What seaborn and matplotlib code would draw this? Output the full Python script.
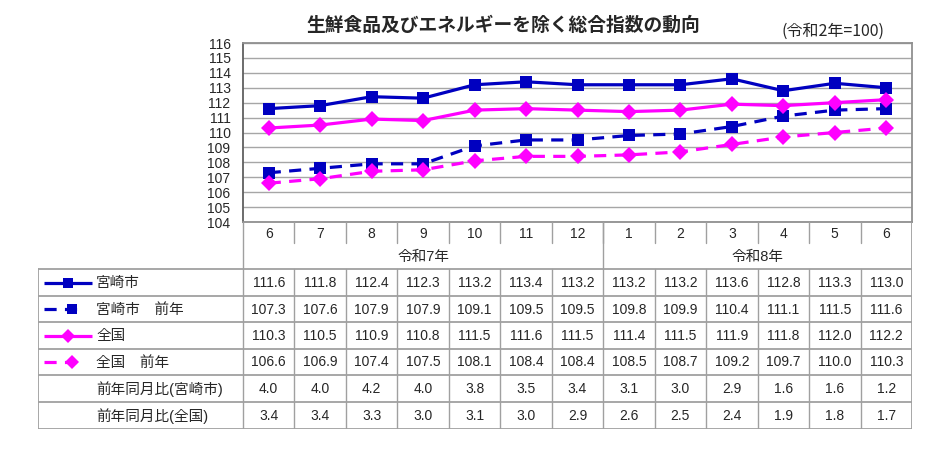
import matplotlib
matplotlib.use('Agg')
import matplotlib.pyplot as plt
import seaborn as sns
import pandas as pd

# data
months = ['6', '7', '8', '9', '10', '11', '12', '1', '2', '3', '4', '5', '6']
years = ['令和7年', '令和8年']
year_first_col = [0, 7]
miyazaki = [111.6, 111.8, 112.4, 112.3, 113.2, 113.4, 113.2, 113.2, 113.2, 113.6, 112.8, 113.3, 113.0]
miyazaki_prev = [107.3, 107.6, 107.9, 107.9, 109.1, 109.5, 109.5, 109.8, 109.9, 110.4, 111.1, 111.5, 111.6]
zenkoku = [110.3, 110.5, 110.9, 110.8, 111.5, 111.6, 111.5, 111.4, 111.5, 111.9, 111.8, 112.0, 112.2]
zenkoku_prev = [106.6, 106.9, 107.4, 107.5, 108.1, 108.4, 108.4, 108.5, 108.7, 109.2, 109.7, 110.0, 110.3]
yoy_miyazaki = [4.0, 4.0, 4.2, 4.0, 3.8, 3.5, 3.4, 3.1, 3.0, 2.9, 1.6, 1.6, 1.2]
yoy_zenkoku = [3.4, 3.4, 3.3, 3.0, 3.1, 3.0, 2.9, 2.6, 2.5, 2.4, 1.9, 1.8, 1.7]
series_names = ['宮崎市', '宮崎市　前年', '全国', '全国　前年']
yoy_names = ['前年同月比(宮崎市)', '前年同月比(全国)']

title = '生鮮食品及びエネルギーを除く総合指数の動向'
base_note = '(令和2年=100)'

sns.set_theme(style='white')
plt.rcParams['font.family'] = ['Liberation Sans', 'Noto Sans CJK JP', 'DejaVu Sans']

BLUE = '#0000C0'
MAGENTA = '#FF00FF'
GRID = '#A6A6A6'
DASH = (3.8, 2.6)
palette = dict(zip(series_names, [BLUE, BLUE, MAGENTA, MAGENTA]))
markers = dict(zip(series_names, ['s', 's', 'D', 'D']))
dashes = dict(zip(series_names, ['', DASH, '', DASH]))

rows = []
for name, vals in zip(series_names, [miyazaki, miyazaki_prev, zenkoku, zenkoku_prev]):
    for i, v in enumerate(vals):
        rows.append({'pos': i, 'value': v, 'series': name})
df = pd.DataFrame(rows)

W, H = 933, 465
fig = plt.figure(figsize=(W / 100, H / 100), dpi=100)

# plot area geometry (pixels)
px_left, px_right, px_top, px_bottom = 243, 912, 43, 222
ax = fig.add_axes([px_left / W, 1 - px_bottom / H, (px_right - px_left) / W, (px_bottom - px_top) / H])
sns.lineplot(data=df, x='pos', y='value', hue='series', style='series',
             palette=palette, markers=markers, dashes=dashes,
             linewidth=2.3, markersize=8.5, markeredgewidth=0,
             legend=False, ax=ax)
ax.set_xlim(-0.5, len(months) - 0.5)
ax.set_ylim(104, 116)
ax.set_yticks(range(104, 117))
ax.set_xticks([])
ax.set_xlabel('')
ax.set_ylabel('')
ax.grid(axis='y', color=GRID, linewidth=1)
ax.tick_params(axis='y', length=0, pad=9, labelsize=10)
for s in ax.spines.values():
    s.set_color('#909090')
    s.set_linewidth(1.3)
ax.spines['left'].set_color('#606060')

fig.text(503 / W, 1 - 25 / H, title, ha='center', va='center', fontsize=13.5,
         fontweight='bold', family=['Noto Sans CJK JP'])
fig.text(833 / W, 1 - 31 / H, base_note, ha='center', va='center', fontsize=11.5,
         family=['Noto Sans CJK JP'])

# data table under the plot
tb_left, tb_top, tb_bottom = 38, 222, 429
col_w = (px_right - px_left) / len(months)
lab_w = (px_left - tb_left) / col_w
axt = fig.add_axes([tb_left / W, 1 - tb_bottom / H, (px_right - tb_left) / W, (tb_bottom - tb_top) / H])
x0 = -0.5 - lab_w
x1 = len(months) - 0.5
axt.set_xlim(x0, x1)
axt.set_ylim(tb_bottom, tb_top)
axt.axis('off')


def px(x):
    return x0 + (x - tb_left) / col_w


LC = '#A0A0A0'
row_edges = [269, 296, 322, 349, 375, 402, 429]
month_row_bottom = 243

# month row and year row
for i, m in enumerate(months):
    axt.text(i, (tb_top + month_row_bottom) / 2 + 1, m, ha='center', va='center', fontsize=10)
    if i > 0:
        axt.plot([i - 0.5, i - 0.5], [tb_top, month_row_bottom], color=LC, lw=1)
col_ends = year_first_col[1:] + [len(months)]
for y_lab, c0, c_end in zip(years, year_first_col, col_ends):
    axt.text((c0 + c_end - 1) / 2, (month_row_bottom + row_edges[0]) / 2 + 1, y_lab,
             ha='center', va='center', fontsize=10.5)
axt.plot([year_first_col[1] - 0.5] * 2, [tb_top, row_edges[0]], color=LC, lw=1)

# vertical borders
axt.plot([-0.5, -0.5], [tb_top, tb_bottom], color=LC, lw=1)
axt.plot([x1, x1], [tb_top, tb_bottom], color=LC, lw=1.3)
axt.plot([x0, x0], [row_edges[0], tb_bottom], color=LC, lw=1.3)
for i in range(1, len(months)):
    axt.plot([i - 0.5, i - 0.5], [row_edges[0], tb_bottom], color=LC, lw=1)

# horizontal borders
for y in row_edges:
    axt.plot([x0, x1], [y, y], color=LC, lw=1.3)

# data rows
all_rows = [miyazaki, miyazaki_prev, zenkoku, zenkoku_prev, yoy_miyazaki, yoy_zenkoku]
all_names = series_names + yoy_names
for r, (name, vals) in enumerate(zip(all_names, all_rows)):
    yc = (row_edges[r] + row_edges[r + 1]) / 2 + 0.5
    axt.text(px(96), yc, name, ha='left', va='center', fontsize=10.5)
    for i, v in enumerate(vals):
        axt.text(i, yc, f'{v:.1f}', ha='center', va='center', fontsize=10)
    if r < 4:
        if dashes[name] == '':
            axt.plot([px(44), px(92)], [yc, yc], color=palette[name], lw=2.3,
                     solid_capstyle='butt')
            mx = 68
        else:
            axt.plot([px(44), px(80)], [yc, yc], color=palette[name], lw=2.3,
                     ls=(0, DASH), dash_capstyle='butt')
            mx = 72
        axt.plot([px(mx)], [yc], color=palette[name], marker=markers[name],
                 markersize=7.5, markeredgewidth=0, ls='none')

fig.savefig('out.png', dpi=100, facecolor='white')
